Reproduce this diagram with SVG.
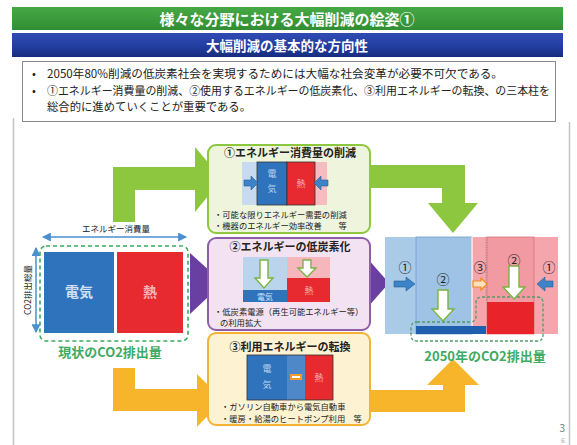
<svg xmlns="http://www.w3.org/2000/svg" width="577" height="445" viewBox="0 0 577 445">
<defs>
<linearGradient id="gHead" x1="0" y1="0" x2="0" y2="1">
<stop offset="0" stop-color="#2f4bb2"/><stop offset="0.5" stop-color="#2440a4"/><stop offset="1" stop-color="#172c7e"/>
</linearGradient>
<linearGradient id="gTitle" x1="0" y1="0" x2="0" y2="1">
<stop offset="0" stop-color="#46a845"/><stop offset="1" stop-color="#318e33"/>
</linearGradient>
<marker id="ah" viewBox="0 0 8 8" refX="7" refY="4" markerWidth="6" markerHeight="6" orient="auto-start-reverse">
<path d="M0,0 L8,4 L0,8 z" fill="#4a8fd0"/>
</marker>
</defs>
<style>
text{font-family:"Noto Sans CJK JP","Noto Sans",sans-serif}
.wt{fill:#fff;font-weight:bold;text-anchor:middle}
.bul{font-size:11.3px;fill:#222}
.btitle{font-size:11px;font-weight:bold;fill:#222;text-anchor:middle}
.small{font-size:8.3px;fill:#222}
.blue{fill:#2f73bd}
.red{fill:#e62a30}
.lblue{fill:#a9cbe8}
.lred{fill:#f4a6ac}
.circ{font-size:13px;fill:#222;text-anchor:middle}
.garrow{fill:#fff;stroke:#79b443;stroke-width:1.4}
.barrow{fill:#3c83c8;stroke:#245e9a;stroke-width:0.6}
.oarrow{fill:#fde1bd;stroke:#f08a24;stroke-width:1.2}
.co2{font-size:13px;font-weight:bold;fill:#3eaa62;text-anchor:middle}
</style>
<rect width="577" height="445" fill="#fff"/>
<line x1="13.5" y1="118" x2="13.5" y2="445" stroke="#c4c4c4" stroke-width="1.5"/>
<line x1="569.5" y1="122" x2="569.5" y2="445" stroke="#c4c4c4" stroke-width="1.5"/>

<g id="title">
<rect x="12" y="7" width="551" height="23" fill="url(#gTitle)"/>
<text class="wt" x="287" y="24.5" font-size="15">様々な分野における大幅削減の絵姿①</text>
</g>
<g id="header">
<rect x="12" y="33" width="551" height="24" fill="url(#gHead)"/>
<text class="wt" x="287" y="50.5" font-size="13.5">大幅削減の基本的な方向性</text>
</g>
<g id="bullets">
<rect x="22.5" y="61.5" width="533" height="60" fill="#fff" stroke="#8a8a8a" stroke-width="1"/>
<text class="bul" x="32" y="78">•</text>
<text class="bul" x="47" y="78" textLength="456" lengthAdjust="spacingAndGlyphs">2050年80%削減の低炭素社会を実現するためには大幅な社会変革が必要不可欠である。</text>
<text class="bul" x="32" y="95">•</text>
<text class="bul" x="47" y="95" textLength="503" lengthAdjust="spacingAndGlyphs">①エネルギー消費量の削減、②使用するエネルギーの低炭素化、③利用エネルギーの転換、の三本柱を</text>
<text class="bul" x="47" y="111" textLength="204" lengthAdjust="spacingAndGlyphs">総合的に進めていくことが重要である。</text>
</g>

<g id="connectors">
<polygon points="113,222 135,222 135,190 195,190 195,212 222,179 195,147 195,167 113,167" fill="#8dc63f"/>
<polygon points="370,165 465,165 465,203 478,203 453,233 428,203 442,203 442,188 370,188" fill="#8dc63f"/>
<polygon points="190,253 223,283 190,314" fill="#6a3fa2"/>
<polygon points="360,250 389,283 360,316" fill="#6a3fa2"/>
<polygon points="113,368 135,368 135,389 197,389 197,374 223,400 197,427 197,411 113,411" fill="#f7b52c"/>
<polygon points="370,390 443,390 443,385 427,385 453,359 479,385 465,385 465,412 370,412" fill="#f7b52c"/>
</g>

<g id="current">
<text x="116" y="232" font-size="8.5" fill="#222" text-anchor="middle">エネルギー消費量</text>
<line x1="43" y1="237" x2="186" y2="237" stroke="#4a8fd0" stroke-width="1.5" marker-start="url(#ah)" marker-end="url(#ah)"/>
<line x1="36" y1="248" x2="36" y2="332" stroke="#4a8fd0" stroke-width="1.5" marker-start="url(#ah)" marker-end="url(#ah)"/>
<text transform="translate(31,290) rotate(-90)" font-size="8.5" fill="#222" text-anchor="middle">CO2排出総量</text>
<rect x="40" y="246" width="148" height="95" rx="6" fill="none" stroke="#3aaa5a" stroke-width="1.6" stroke-dasharray="4 3"/>
<rect class="blue" x="44" y="252" width="70" height="81"/>
<rect class="red" x="117" y="252" width="66" height="81"/>
<text x="79" y="297" font-size="14" font-weight="bold" fill="#cfe0f3" text-anchor="middle">電気</text>
<text x="150" y="297" font-size="14" font-weight="bold" fill="#f7b3b7" text-anchor="middle">熱</text>
<text class="co2" x="110" y="357">現状のCO2排出量</text>
</g>

<g id="box1">
<rect x="208" y="145" width="162" height="88" rx="8" fill="#eef5dc" stroke="#8dc63f" stroke-width="2"/>
<text class="btitle" x="290" y="157">①エネルギー消費量の削減</text>
<rect x="242" y="162" width="15" height="43" fill="#c7daef"/>
<rect x="315" y="162" width="12" height="43" fill="#f6bcc0"/>
<rect class="blue" x="257" y="162" width="30" height="43" stroke="#333" stroke-width="0.8"/>
<rect class="red" x="287" y="162" width="28" height="43" stroke="#333" stroke-width="0.8"/>
<text x="272" y="177" font-size="9" fill="#b9d4ef" text-anchor="middle">電</text>
<text x="272" y="192" font-size="9" fill="#b9d4ef" text-anchor="middle">気</text>
<text x="301" y="187" font-size="9" fill="#f6b0b4" text-anchor="middle">熱</text>
<polygon class="barrow" points="244,180 251,180 251,176 258,183 251,190 251,186 244,186"/>
<polygon class="barrow" points="328,180 321,180 321,176 314,183 321,190 321,186 328,186"/>
<text class="small" x="214" y="218">・可能な限りエネルギー需要の削減</text>
<text class="small" x="214" y="229">・機器のエネルギー効率改善　　等</text>
</g>

<g id="box2">
<rect x="208" y="238" width="162" height="92" rx="8" fill="#f3e2f1" stroke="#8e5fa8" stroke-width="2"/>
<text class="btitle" x="290" y="251">②エネルギーの低炭素化</text>
<rect x="243" y="257" width="44" height="33" fill="#b9d4ec"/>
<rect class="blue" x="243" y="290" width="44" height="12"/>
<text x="265" y="299.5" font-size="8" fill="#d6e5f5" text-anchor="middle">電気</text>
<rect x="287" y="257" width="43" height="21" fill="#f5b7bc"/>
<rect class="red" x="287" y="278" width="43" height="24"/>
<text x="309" y="294" font-size="9" fill="#f6b0b4" text-anchor="middle">熱</text>
<polygon class="garrow" points="260,260 268,260 268,278 273,278 264,288 255,278 260,278"/>
<polygon class="garrow" points="303,260 311,260 311,268 316,268 307,277 298,268 303,268"/>
<text class="small" x="214" y="315">・低炭素電源（再生可能エネルギー等）</text>
<text class="small" x="220" y="326">の利用拡大</text>
</g>

<g id="box3">
<rect x="208" y="333" width="162" height="92" rx="8" fill="#fdf2d2" stroke="#f5b335" stroke-width="2"/>
<text class="btitle" x="290" y="351">③利用エネルギーの転換</text>
<rect class="blue" x="247" y="355" width="40" height="45"/>
<rect x="287" y="355" width="18" height="45" fill="#4f88c8"/>
<rect class="red" x="305" y="355" width="28" height="45"/>
<rect x="247" y="355" width="86" height="45" fill="none" stroke="#333" stroke-width="0.8"/>
<text x="267" y="372" font-size="9" fill="#b9d4ef" text-anchor="middle">電</text>
<text x="267" y="388" font-size="9" fill="#b9d4ef" text-anchor="middle">気</text>
<rect x="290" y="374" width="12" height="6" fill="#f39a2b"/>
<rect x="292" y="376" width="8" height="2" fill="#fff"/>
<text x="319" y="381" font-size="9" fill="#f6b0b4" text-anchor="middle">熱</text>
<text class="small" x="221" y="410">・ガソリン自動車から電気自動車</text>
<text class="small" x="221" y="422">・暖房・給湯のヒートポンプ利用　等</text>
</g>

<g id="future">
<rect class="lblue" x="385" y="237" width="87" height="97"/>
<rect x="416" y="237" width="56" height="97" fill="#9fc3e5" stroke="#6f9fcf" stroke-width="0.8"/>
<rect class="lred" x="472" y="237" width="86" height="97"/>
<rect x="487" y="237" width="47" height="97" fill="#f29aa1" stroke="#d9747c" stroke-width="0.8"/>
<line x1="472" y1="237" x2="472" y2="326" stroke="#fff" stroke-width="1.2"/>
<line x1="486" y1="237" x2="486" y2="300" stroke="#777" stroke-width="0.7" stroke-dasharray="1 1.5"/>
<rect x="416" y="326" width="70" height="8" fill="#1f5fae"/>
<rect x="487" y="302" width="47" height="32" fill="#e8232a"/>
<path d="M417,322 L470,322 Q476,322 476,316 L476,303 Q476,297 482,297 L537,297 Q543,297 543,303 L543,335 Q543,341 537,341 L417,341 Q411,341 411,335 L411,328 Q411,322 417,322 Z" fill="none" stroke="#4f9a6a" stroke-width="1.3" stroke-dasharray="3 2"/>
<text class="circ" x="405" y="272">①</text>
<polygon class="barrow" points="394,281 406,281 406,277 415,284 406,291 406,287 394,287"/>
<text class="circ" x="443" y="284">②</text>
<polygon class="garrow" points="438,290 448,290 448,309 454,309 443,321 432,309 438,309"/>
<text class="circ" x="480" y="272">③</text>
<polygon class="oarrow" points="473,281 481,281 481,278 487,284 481,290 481,287 473,287"/>
<text class="circ" x="514" y="265">②</text>
<polygon class="garrow" points="509,266 519,266 519,287 525,287 514,299 503,287 509,287"/>
<text class="circ" x="549" y="272">①</text>
<polygon class="barrow" points="553,281 545,281 545,277 537,284 545,291 545,287 553,287"/>
<text class="co2" x="485" y="361">2050年のCO2排出量</text>
</g>

<g id="page">
<text x="565" y="432" font-size="10" fill="#777" text-anchor="end">3</text>
<text x="565" y="443" font-size="7" fill="#aaa" text-anchor="end">6</text>
</g>
</svg>
